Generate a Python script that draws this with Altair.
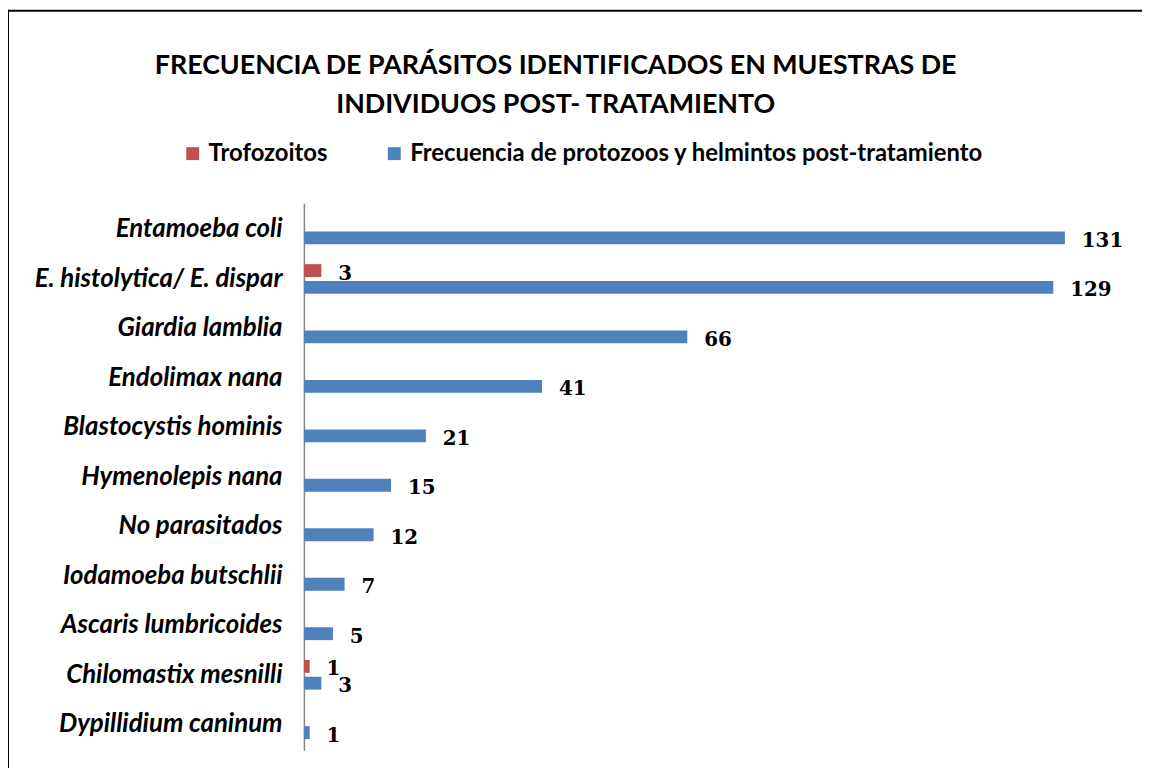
import altair as alt
import pandas as pd

categories = [
    "Entamoeba coli",
    "E. histolytica/ E. dispar",
    "Giardia lamblia",
    "Endolimax nana",
    "Blastocystis hominis",
    "Hymenolepis nana",
    "No parasitados",
    "Iodamoeba butschlii",
    "Ascaris lumbricoides",
    "Chilomastix mesnilli",
    "Dypillidium caninum",
]
protozoos = [131, 129, 66, 41, 21, 15, 12, 7, 5, 3, 1]
trofozoitos = [None, 3, None, None, None, None, None, None, None, 1, None]
series_names = ["Trofozoitos", "Frecuencia de protozoos y helmintos post-tratamiento"]
colors = ["#C0504D", "#4F81BD"]
title_lines = ["FRECUENCIA DE PARÁSITOS IDENTIFICADOS EN MUESTRAS DE",
               "INDIVIDUOS POST- TRATAMIENTO"]

rows = []
for c, p, t in zip(categories, protozoos, trofozoitos):
    if t is not None:
        rows.append({"cat": c, "serie": series_names[0], "valor": t})
    rows.append({"cat": c, "serie": series_names[1], "valor": p})
df = pd.DataFrame(rows)

y = alt.Y("cat:N", sort=categories,
          scale=alt.Scale(paddingInner=0.4, paddingOuter=0.23),
          axis=alt.Axis(title=None, ticks=False, domainColor="#868686", domainWidth=1.5,
                        labelFont="Lato", labelFontStyle="italic", labelFontWeight="bold",
                        labelFontSize=26, labelColor="black", labelPadding=22,
                        labelLimit=600))
yoff = alt.YOffset("serie:N", sort=series_names,
                   scale=alt.Scale(domain=series_names, paddingInner=0.235, paddingOuter=0))
x = alt.X("valor:Q", scale=alt.Scale(domain=[0, 140]), axis=None)
color = alt.Color("serie:N", sort=series_names,
                  scale=alt.Scale(domain=series_names, range=colors),
                  legend=alt.Legend(title=None, orient="none", legendX=-124, legendY=-62,
                                    direction="horizontal", symbolType="square", symbolSize=169,
                                    symbolStrokeWidth=0, labelFont="Lato", labelFontWeight="bold",
                                    labelFontSize=24, labelColor="black", columnPadding=55,
                                    labelOffset=4, padding=0, labelLimit=900))

bars = alt.Chart(df).mark_bar().encode(y=y, yOffset=yoff, x=x, color=color)
labels = alt.Chart(df).mark_text(align="left", baseline="middle", dx=17, dy=3,
                                 font="DejaVu Serif", fontWeight="bold", fontSize=20,
                                 color="black").encode(y=y, yOffset=yoff, x=x, text="valor:Q")

frame_df = pd.DataFrame({"k": [0]})
frame_left = alt.Chart(frame_df).mark_rule(color="black", strokeWidth=2).encode(
    x=alt.value(-298), y=alt.value(-195), y2=alt.value(700))
frame_top = alt.Chart(frame_df).mark_rule(color="black", strokeWidth=2).encode(
    x=alt.value(-299), x2=alt.value(900), y=alt.value(-194))

chart = alt.layer(frame_left, frame_top, bars, labels).properties(
    width=819, height=551,
    autosize=alt.AutoSizeParams(type="none"),
    padding={"left": 298, "top": 194, "right": 25, "bottom": 15},
    title=alt.Title(title_lines, font="Lato", fontSize=27, fontWeight="bold", color="black",
                    anchor="middle", frame="group", dx=-156, offset=-111, lineHeight=39),
).configure_view(stroke=None)

chart.save("out.html", embed_options={"renderer": "svg", "actions": False})
